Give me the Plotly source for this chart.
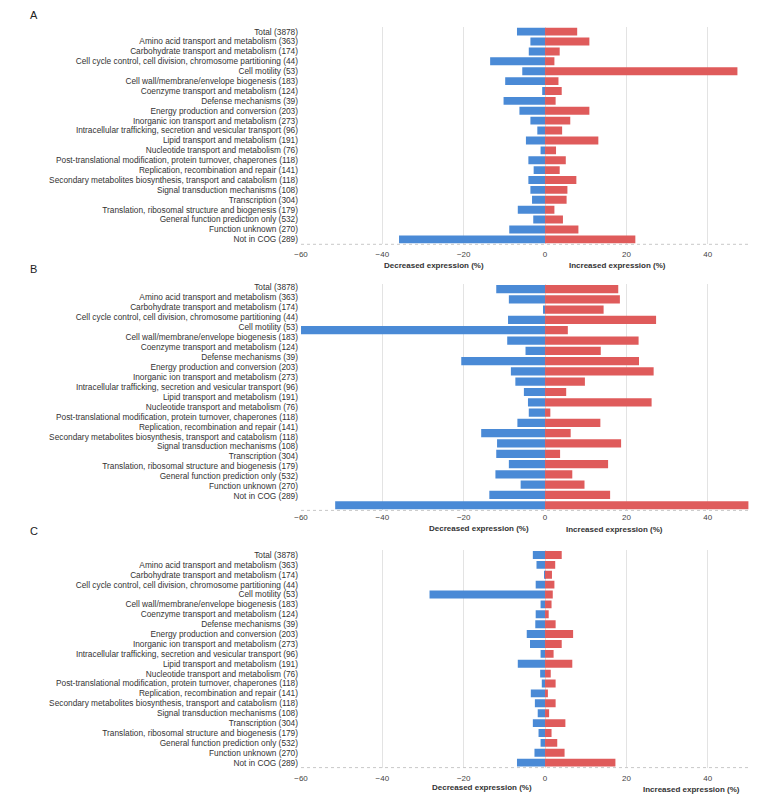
import plotly.graph_objects as go

categories = [
    "Total (3878)",
    "Amino acid transport and metabolism (363)",
    "Carbohydrate transport and metabolism (174)",
    "Cell cycle control, cell division, chromosome partitioning (44)",
    "Cell motility (53)",
    "Cell wall/membrane/envelope biogenesis (183)",
    "Coenzyme transport and metabolism (124)",
    "Defense mechanisms (39)",
    "Energy production and conversion (203)",
    "Inorganic ion transport and metabolism (273)",
    "Intracellular trafficking, secretion and vesicular transport (96)",
    "Lipid transport and metabolism (191)",
    "Nucleotide transport and metabolism (76)",
    "Post-translational modification, protein turnover, chaperones (118)",
    "Replication, recombination and repair (141)",
    "Secondary metabolites biosynthesis, transport and catabolism (118)",
    "Signal transduction mechanisms (108)",
    "Transcription (304)",
    "Translation, ribosomal structure and biogenesis (179)",
    "General function prediction only (532)",
    "Function unknown (270)",
    "Not in COG (289)",
]

a_decreased = [-6.9, -3.6, -4.0, -13.5, -5.6, -9.8, -0.7, -10.2, -6.3, -3.6, -1.9,
               -4.7, -1.1, -4.1, -2.8, -4.1, -3.6, -3.2, -6.7, -2.9, -8.8, -35.9]
a_increased = [7.9, 10.9, 3.6, 2.3, 47.3, 3.3, 4.1, 2.6, 10.9, 6.2, 4.2,
               13.1, 2.7, 5.1, 3.6, 7.7, 5.5, 5.3, 2.3, 4.4, 8.2, 22.2]

b_decreased = [-12.0, -8.9, -0.5, -9.1, -62.0, -9.3, -4.8, -20.6, -8.4, -7.3, -5.2,
               -4.2, -4.0, -6.8, -15.7, -11.8, -12.0, -8.9, -12.2, -6.0, -13.7, -51.6]
b_increased = [18.0, 18.4, 14.4, 27.3, 5.6, 23.0, 13.7, 23.1, 26.7, 9.8, 5.2,
               26.2, 1.3, 13.6, 6.3, 18.7, 3.7, 15.5, 6.7, 9.7, 16.0, 51.0]

c_decreased = [-3.0, -2.1, -0.1, -2.3, -28.4, -1.1, -2.3, -2.4, -4.5, -3.7, -1.1,
               -6.7, -1.2, -0.8, -3.5, -2.5, -1.8, -3.0, -1.6, -1.1, -2.6, -6.9]
c_increased = [4.1, 2.5, 1.7, 2.3, 1.9, 1.6, 0.9, 2.6, 6.9, 4.1, 2.1,
               6.7, 1.4, 2.6, 0.7, 2.6, 1.0, 5.0, 1.6, 3.0, 4.8, 17.3]

x_ticks = [-60, -40, -20, 0, 20, 40]
x_range = [-60, 50]

BLUE = "#4a8ad6"
RED = "#df5b5b"
FONT = "Liberation Sans"

# the page body has an 8px margin: work in page pixels and convert
OFF = 8.0
W = 752.0
H = 786.0

def px_x(x):
    return (x - OFF) / W

def px_y(y):
    return 1 - (y - OFF) / H

def ydom(top_px, bottom_px):
    return [px_y(bottom_px), px_y(top_px)]

x_dom = [px_x(296.7), px_x(748.3)]
dom_a = ydom(26.7, 244.3)
dom_b = ydom(283.9, 510.4)
dom_b_labels = ydom(282.3, 501.3)
dom_c = ydom(550.0, 767.6)

n = len(categories)
cat_range = [n - 0.5, -0.5]

fig = go.Figure()

panels = [("x", "y", a_decreased, a_increased),
          ("x2", "y2", b_decreased, b_increased),
          ("x3", "y3", c_decreased, c_increased)]
for xa, ya, dec, inc in panels:
    fig.add_trace(go.Bar(y=categories, x=dec, orientation="h", marker_color=BLUE,
                         marker_line_width=0, xaxis=xa, yaxis=ya, showlegend=False))
    fig.add_trace(go.Bar(y=categories, x=inc, orientation="h", marker_color=RED,
                         marker_line_width=0, xaxis=xa, yaxis=ya, showlegend=False))

# label axis for panel B (labels are spaced slightly tighter than bars in the original)
fig.add_trace(go.Scatter(y=categories, x=[0] * n, mode="markers",
                         marker=dict(opacity=0), xaxis="x4", yaxis="y4",
                         hoverinfo="skip", showlegend=False))

xcommon = dict(range=x_range, tickvals=x_ticks, showgrid=True, gridcolor="#e3e3e3",
               gridwidth=1, zeroline=False, showline=False, ticks="",
               ticklabelstandoff=4,
               tickfont=dict(family=FONT, size=8, color="#444"), fixedrange=True)
ycommon = dict(type="category", categoryorder="array", categoryarray=categories,
               tickmode="array", tickvals=categories, ticktext=categories,
               range=cat_range, autorange=False,
               showgrid=False, zeroline=False, showline=False,
               ticks="", tickfont=dict(family=FONT, size=8.3, color="#333"),
               ticklabelstandoff=2)

fig.update_layout(
    width=int(W), height=int(H),
    margin=dict(l=0, r=0, t=0, b=0),
    paper_bgcolor="white", plot_bgcolor="rgba(0,0,0,0)",
    barmode="relative", bargap=0.2,
    xaxis=dict(domain=x_dom, anchor="y", **xcommon),
    yaxis=dict(domain=dom_a, anchor="x", **ycommon),
    xaxis2=dict(domain=x_dom, anchor="y2", **{**xcommon, "ticklabelstandoff": 1}),
    yaxis2=dict(domain=dom_b, anchor="x2", **{**ycommon, "showticklabels": False}),
    xaxis3=dict(domain=x_dom, anchor="y3", **xcommon),
    yaxis3=dict(domain=dom_c, anchor="x3", **ycommon),
    xaxis4=dict(domain=x_dom, anchor="y4", range=[-1, 1], visible=False),
    yaxis4=dict(domain=dom_b_labels, anchor="x4", **ycommon),
)

# dotted baselines
for xa, ya in [("x", "y"), ("x2", "y2"), ("x3", "y3")]:
    fig.add_shape(type="line", xref=f"{xa} domain", yref=f"{ya} domain",
                  x0=0, x1=1, y0=0, y1=0, line=dict(color="#c8c8c8", width=1, dash="dot"))

title_font = dict(family=FONT, size=8, color="#333")
titles = [
    (430.5, 265.0, "Decreased expression (%)"),
    (616.3, 265.0, "Increased expression (%)"),
    (476.0, 528.5, "Decreased expression (%)"),
    (613.5, 529.0, "Increased expression (%)"),
    (479.0, 787.7, "Decreased expression (%)"),
    (691.0, 789.0, "Increased expression (%)"),
]
for px, py, t in titles:
    fig.add_annotation(x=px_x(px), y=px_y(py), xref="paper", yref="paper",
                       text=f"<b>{t}</b>", showarrow=False, font=title_font,
                       xanchor="center", yanchor="middle")

letter_font = dict(family=FONT, size=11, color="#222")
# "A" sits at the very top edge of the page
fig.add_annotation(x=px_x(27), y=1, xref="paper", yref="paper", text="A",
                   showarrow=False, font=letter_font, xanchor="center", yanchor="top",
                   borderpad=0)
for letter, py in [("B", 269), ("C", 531)]:
    fig.add_annotation(x=px_x(27), y=px_y(py), xref="paper", yref="paper",
                       text=letter, showarrow=False, font=letter_font,
                       xanchor="center", yanchor="middle")

fig.write_html("out.html")
